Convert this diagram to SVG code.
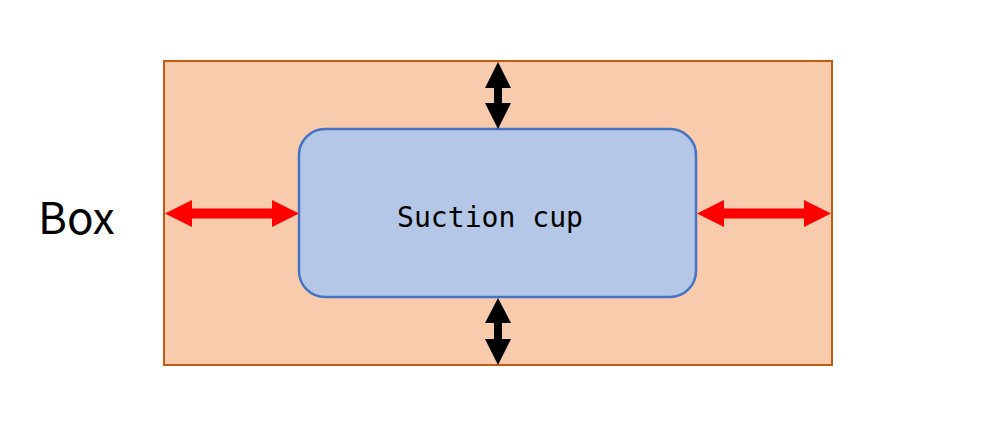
<svg xmlns="http://www.w3.org/2000/svg" width="1007" height="422" viewBox="0 0 1007 422">
<style>
.red{fill:#FF0000}
.blk{fill:#000000}
</style>
<rect width="1007" height="422" fill="#FFFFFF"/>
<g id="box">
<rect x="164" y="61" width="668" height="304" fill="#F8CBAD" stroke="#C55A11" stroke-width="2"/>
<text x="38" y="234" font-family="'Noto Sans CJK SC','Liberation Sans',sans-serif" font-size="44" fill="#000">Box</text>
</g>
<g id="suction-cup">
<rect x="299" y="129" width="397" height="168" rx="26" ry="26" fill="#B4C7E7" stroke="#4472C4" stroke-width="2.5"/>
<text x="397" y="227" font-family="'DejaVu Sans Mono','Liberation Mono',monospace" font-size="28" textLength="186" lengthAdjust="spacingAndGlyphs" fill="#000">Suction cup</text>
</g>
<g id="connectors">
<polygon class="red" points="165,213.5 192,200 192,208.5 272,208.5 272,200 299,213.5 272,227 272,218.5 192,218.5 192,227"/>
<polygon class="red" points="697,213.5 724,200 724,208.5 804,208.5 804,200 831,213.5 804,227 804,218.5 724,218.5 724,227"/>
<polygon class="blk" points="498,62 511,88 502,88 502,103 511,103 498,129 485,103 494,103 494,88 485,88"/>
<polygon class="blk" points="498,298 511,323 502,323 502,339 511,339 498,365 485,339 494,339 494,323 485,323"/>
</g>
</svg>
